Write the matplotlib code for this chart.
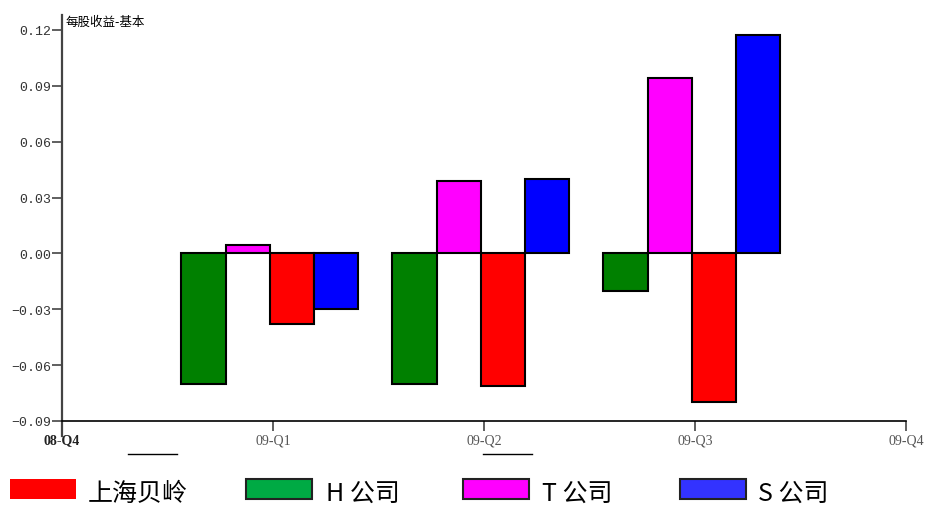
import numpy as np
import matplotlib
matplotlib.use('Agg')
from matplotlib import pyplot as plt
from matplotlib.patches import Rectangle
from matplotlib.lines import Line2D

plt.rcParams['font.family'] = ['Noto Sans CJK SC', 'DejaVu Sans']

quarters = ['08-Q4', '09-Q1', '09-Q2', '09-Q3', '09-Q4']
bar_quarters = ['09-Q1', '09-Q2', '09-Q3']

# order drawn inside a group: H, T, 上海贝岭, S
h_co = [-0.070, -0.070, -0.020]
t_co = [0.0045, 0.039, 0.094]
sh_beiling = [-0.038, -0.071, -0.080]
s_co = [-0.030, 0.040, 0.117]

series = [h_co, t_co, sh_beiling, s_co]
bar_colors = ['#008000', '#ff00ff', '#ff0000', '#0000ff']

legend_labels = ['上海贝岭', 'H 公司', 'T 公司', 'S 公司']
legend_colors = ['#ff0000', '#00aa44', '#ff00ff', '#3333ff']

yticks = [-0.09, -0.06, -0.03, 0.00, 0.03, 0.06, 0.09, 0.12]

W, H = 929, 510
fig = plt.figure(figsize=(W / 100, H / 100), dpi=100)
ax = fig.add_axes([62 / W, (H - 422) / H, (906 - 62) / W, (422 - 16) / H])

width = 0.21
centers = np.array([quarters.index(q) for q in bar_quarters]) - 0.015
for i, (vals, col) in enumerate(zip(series, bar_colors)):
    ax.bar(centers + (i - 1.5) * width, vals, width=width, color=col,
           edgecolor='black', linewidth=1.5, zorder=2)

ax.set_xlim(0, len(quarters) - 1)
ax.set_ylim(-0.09, 0.128)

ax.spines['top'].set_visible(False)
ax.spines['right'].set_visible(False)
ax.spines['left'].set_linewidth(1.6)
ax.spines['left'].set_color('#444444')
ax.spines['bottom'].set_linewidth(1.2)
ax.spines['left'].set_bounds(-0.098, 0.128)

ax.set_yticks(yticks)
ax.set_yticklabels(['%.2f' % v if v >= 0 else '\u22120.%02d' % round(-v * 100)
                    for v in yticks],
                   family=['Liberation Mono'], fontsize=9.5, color='#333333')
ax.tick_params(axis='y', length=7, width=1.2, color='#444444', pad=1)

ax.set_xticks(range(len(quarters)))
ax.set_xticklabels(quarters, family=['Liberation Serif'], fontsize=10,
                   color='#555555')
ax.get_xticklabels()[0].set_fontweight('bold')
ax.get_xticklabels()[0].set_color('#222222')
ax.tick_params(axis='x', length=7, width=1.2, color='#444444', pad=2)

ax.text(4 / (906 - 62), 1.0, '每股收益-基本', transform=ax.transAxes,
        fontsize=9, va='top', ha='left')

# stray short lines under the axis
for x0, x1 in [(128, 177), (483, 532)]:
    fig.add_artist(Line2D([x0 / W, x1 / W], [(H - 455) / H] * 2,
                          color='black', linewidth=1))

# legend row
patch_x = [10, 246, 463, 680]
text_x = [88, 326, 542, 758]
for k, (lab, col) in enumerate(zip(legend_labels, legend_colors)):
    ec = 'none' if k == 0 else '#222222'
    fig.add_artist(Rectangle((patch_x[k] / W, (H - 500) / H), 66 / W, 20 / H,
                             facecolor=col, edgecolor=ec, linewidth=1.5,
                             transform=fig.transFigure))
    fig.text(text_x[k] / W, (H - 494) / H, lab, fontsize=18, va='center',
             ha='left', fontweight='light')

fig.savefig('out.png', dpi=100)
